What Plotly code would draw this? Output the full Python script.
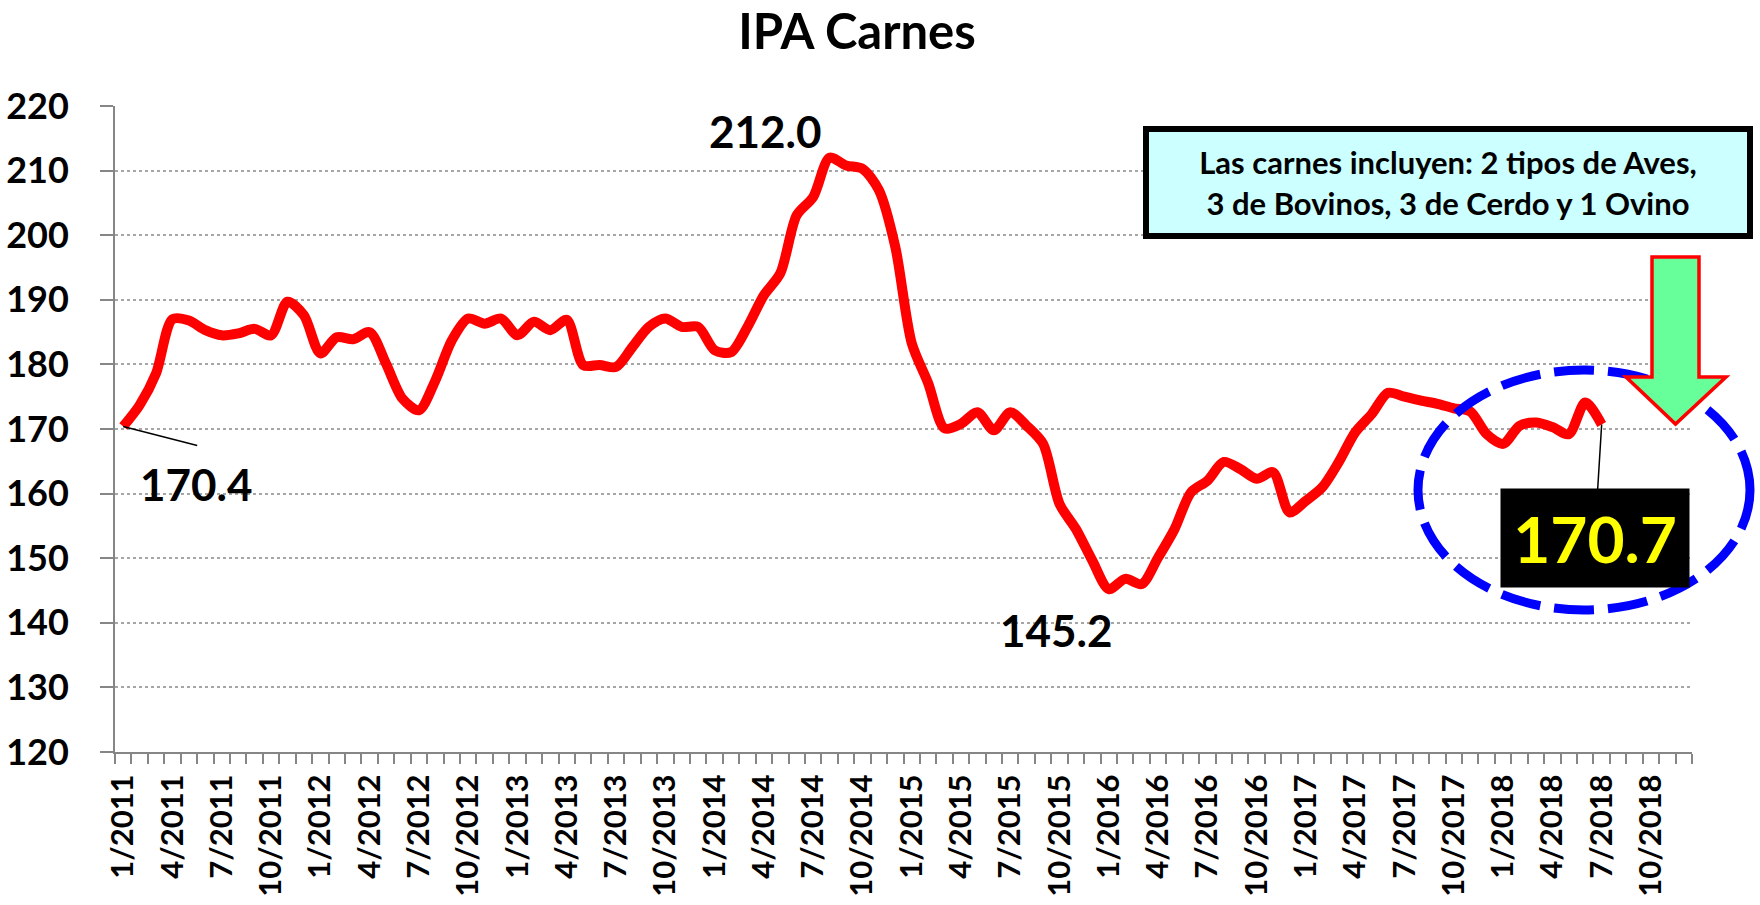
import plotly.graph_objects as go

# ---------------- data ----------------
tick_labels = ["1/2011", "4/2011", "7/2011", "10/2011",
               "1/2012", "4/2012", "7/2012", "10/2012",
               "1/2013", "4/2013", "7/2013", "10/2013",
               "1/2014", "4/2014", "7/2014", "10/2014",
               "1/2015", "4/2015", "7/2015", "10/2015",
               "1/2016", "4/2016", "7/2016", "10/2016",
               "1/2017", "4/2017", "7/2017", "10/2017",
               "1/2018", "4/2018", "7/2018", "10/2018"]
n_months = 96  # 1/2011 .. 12/2018 on the axis

# IPA Carnes, monthly 1/2011 .. 7/2018
ipa = [170.4, 173.7, 178.6, 187.0, 186.8, 185.3, 184.5, 184.8, 185.5, 184.5,
       189.7, 187.6, 181.7, 184.2, 183.9, 185.0, 180.1, 174.7, 172.9, 177.5,
       183.7, 187.1, 186.3, 187.1, 184.5, 186.6, 185.3, 186.9, 179.9, 179.9,
       179.6, 182.7, 185.8, 187.1, 185.8, 185.8, 182.2, 181.9, 185.8, 190.7,
       194.1, 203.1, 205.9, 212.0, 210.8, 210.3, 207.0, 198.2, 183.3, 177.1,
       170.1, 170.8, 172.6, 169.8, 172.6, 170.5, 167.7, 158.4, 154.5, 149.6,
       145.2, 146.8, 146.0, 150.1, 154.5, 160.2, 162.0, 164.9, 163.8, 162.3,
       163.3, 157.1, 158.9, 161.0, 164.9, 169.5, 172.3, 175.6, 175.0, 174.4,
       173.9, 173.2, 172.7, 169.2, 167.7, 170.5, 171.0, 170.3, 169.2, 174.1,
       170.7]
x_idx = list(range(len(ipa)))

# ---------------- layout constants ----------------
W, H = 1760, 905
L, R, T, B = 115, 1692, 106, 752
FONT = "Lato"


def px(X, Y):
    """pixel -> paper coordinates"""
    return (X - L) / (R - L), (B - Y) / (B - T)


i_first = 0
i_max = max(x_idx, key=lambda i: ipa[i])
i_min = min(x_idx, key=lambda i: ipa[i])
i_last = len(ipa) - 1

fig = go.Figure()
fig.add_trace(go.Scatter(
    x=x_idx, y=ipa, mode="lines",
    line=dict(color="#FF0000", width=10, shape="spline", smoothing=0.8),
    hoverinfo="skip", showlegend=False))

grey = "#868686"
fig.update_layout(
    width=W, height=H,
    margin=dict(l=L, r=W - R, t=T, b=H - B, autoexpand=False),
    plot_bgcolor="white", paper_bgcolor="white",
    title=dict(text="IPA Carnes", x=857 / W, xref="container", xanchor="center",
               y=1 - 32 / H, yref="container", yanchor="middle",
               font=dict(family=FONT, size=49, color="black", weight="bold")),
    xaxis=dict(range=[-0.5, n_months - 0.5],
               tickmode="array",
               tickvals=list(range(0, n_months, 3)),
               ticktext=tick_labels,
               tickangle=-90,
               ticks="",
               ticklabelstandoff=8,
               tickfont=dict(family=FONT, size=31, color="black", weight="bold"),
               showline=True, linecolor=grey, linewidth=2,
               showgrid=False, zeroline=False,
               minor=dict(tickmode="linear", tick0=-0.5, dtick=1,
                          ticks="outside", ticklen=10, tickcolor=grey,
                          tickwidth=1.5, showgrid=False)),
    yaxis=dict(range=[120, 220], tickmode="linear", tick0=120, dtick=10,
               ticks="outside", ticklen=13, tickcolor=grey, tickwidth=2,
               ticklabelstandoff=24,
               tickfont=dict(family=FONT, size=36, color="black", weight="bold"),
               showline=True, linecolor=grey, linewidth=2,
               showgrid=True, gridcolor="#A6A6A6", griddash="dot", gridwidth=1.5,
               zeroline=False),
)

lab_font = dict(family=FONT, size=44, color="black", weight="bold")

# first value label + leader
fig.add_annotation(x=i_first, y=ipa[i_first], text=f"{ipa[i_first]:.1f}",
                   showarrow=False, xshift=73, yshift=-58, font=lab_font)
fig.add_shape(type="line", xref="x", yref="y",
              xsizemode="pixel", ysizemode="pixel",
              xanchor=i_first, yanchor=ipa[i_first],
              x0=0, y0=0, x1=74, y1=-19,
              line=dict(color="black", width=1.5), layer="above")

# max label
fig.add_annotation(x=i_max, y=ipa[i_max], text=f"{ipa[i_max]:.1f}",
                   showarrow=False, xshift=-64, yshift=27, font=lab_font)
# min label
fig.add_annotation(x=i_min, y=ipa[i_min], text=f"{ipa[i_min]:.1f}",
                   showarrow=False, xshift=-52, yshift=-41, font=lab_font)

# blue dashed ellipse
ex0, ey0 = px(1418, 370)
ex1, ey1 = px(1750, 610)
fig.add_shape(type="circle", xref="paper", yref="paper",
              x0=ex0, x1=ex1, y0=ey1, y1=ey0,
              line=dict(color="#0000FF", width=9, dash="40px,14px"),
              fillcolor="rgba(0,0,0,0)", layer="above")

# green arrow
pts = [(1652, 257), (1699, 257), (1699, 377), (1726, 377),
       (1675.5, 424), (1626, 377), (1652, 377)]
path = "M " + " L ".join(f"{px(a, b)[0]:.5f},{px(a, b)[1]:.5f}" for a, b in pts) + " Z"
fig.add_shape(type="path", xref="paper", yref="paper", path=path,
              fillcolor="#66FF99", line=dict(color="#FF0000", width=3.5),
              layer="above")

# last value box
fig.add_annotation(x=i_last, y=ipa[i_last], text=f"{ipa[i_last]:.1f}",
                   showarrow=True, arrowhead=0, arrowwidth=1.5, arrowcolor="black",
                   ax=-7, ay=114, bgcolor="black", width=186, height=96,
                   borderpad=1,
                   font=dict(family=FONT, size=64, color="#FFFF00", weight="bold"))

# info text box
bx, by = px(1448, 182.5)
fig.add_annotation(x=bx, y=by, xref="paper", yref="paper",
                   xanchor="center", yanchor="middle",
                   text="Las carnes incluyen: 2 tipos de Aves,<br>3 de Bovinos, 3 de Cerdo y 1 Ovino",
                   showarrow=False, align="center",
                   bgcolor="#CCFFFF", bordercolor="black", borderwidth=6, borderpad=0,
                   width=598, height=101,
                   font=dict(family=FONT, size=31, color="black", weight="bold"))

fig.write_html("out.html", config={"displayModeBar": False},
               post_script="document.body.style.margin='0px';")
